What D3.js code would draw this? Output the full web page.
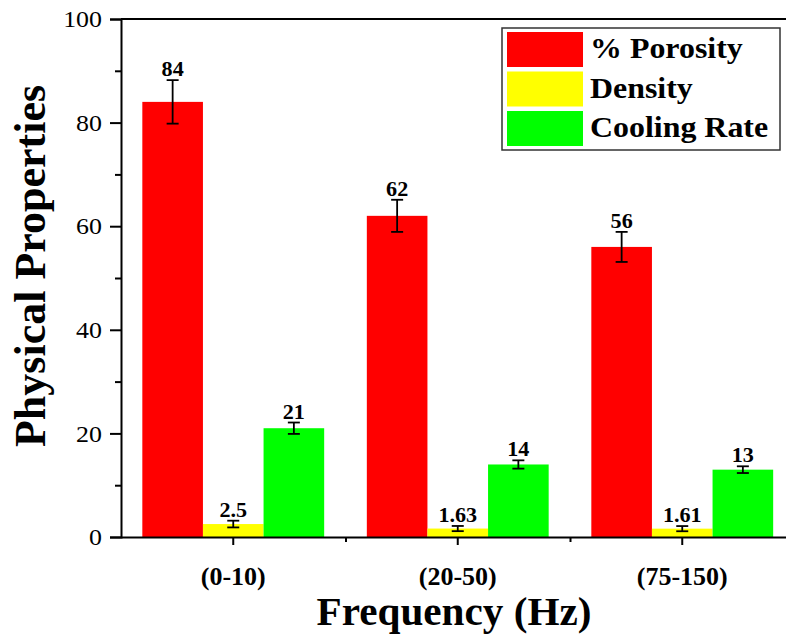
<!DOCTYPE html>
<html>
<head>
<meta charset="utf-8">
<script src="https://cdn.jsdelivr.net/npm/d3@7"></script>
<style>
  html, body { margin: 0; padding: 0; background: #fff; }
  svg { display: block; }
</style>
</head>
<body>
<svg id="chart" width="786" height="640"></svg>
<script>
// ---- data ----
const categories = ["(0-10)", "(20-50)", "(75-150)"];
const seriesNames = ["% Porosity", "Density", "Cooling Rate"];
const porosity = [84, 62, 56];
const porosityErr = [4.2, 3.1, 2.9];
const density = [2.5, 1.63, 1.61];
const densityErr = [0.65, 0.5, 0.5];
const coolingRate = [21, 14, 13];
const coolingRateErr = [1.1, 0.8, 0.65];
const yTicks = [0, 20, 40, 60, 80, 100];
const yMinorTicks = [10, 30, 50, 70, 90];
const xTitle = "Frequency (Hz)";
const yTitle = "Physical Properties";

const seriesValues = [porosity, density, coolingRate];
const seriesErrors = [porosityErr, densityErr, coolingRateErr];
const colors = ["#ff0000", "#ffff00", "#00ff00"];
const FONT = "'Liberation Serif', 'Times New Roman', serif";

// ---- layout ----
const svg = d3.select("#chart");
const plotL = 121, plotR = 794.5, plotT = 19, plotB = 537;

const x = d3.scaleBand().domain(categories).range([plotL, plotR]).padding(0);
const groupW = x.bandwidth() * 0.81;
const x1 = d3.scaleBand().domain(seriesNames).range([-groupW / 2, groupW / 2]).padding(0);
const y = d3.scaleLinear().domain([0, 100]).range([plotB, plotT]);

// Frame top / right lines (right side falls outside the view)
svg.append("line")
  .attr("x1", plotL).attr("x2", plotR).attr("y1", plotT).attr("y2", plotT)
  .attr("stroke", "#000").attr("stroke-width", 2);
svg.append("line")
  .attr("x1", plotR).attr("x2", plotR).attr("y1", plotT).attr("y2", plotB)
  .attr("stroke", "#000").attr("stroke-width", 2);

// Bars
const rows = [];
seriesNames.forEach((s, si) => {
  categories.forEach((c, ci) => {
    rows.push({ s, si, c, v: seriesValues[si][ci], e: seriesErrors[si][ci] });
  });
});

const cx = d => x(d.c) + x.bandwidth() / 2 + x1(d.s);
svg.append("g").selectAll("rect").data(rows).join("rect")
  .attr("x", d => cx(d))
  .attr("width", x1.bandwidth())
  .attr("y", d => y(d.v))
  .attr("height", d => y(0) - y(d.v))
  .attr("fill", d => colors[d.si]);

// Error bars
const eb = svg.append("g").attr("stroke", "#000").attr("stroke-width", 1.8);
const mid = d => cx(d) + x1.bandwidth() / 2;
const capW = 6;
rows.forEach(d => {
  const m = mid(d);
  eb.append("line").attr("x1", m).attr("x2", m).attr("y1", y(d.v + d.e)).attr("y2", y(d.v - d.e));
  eb.append("line").attr("x1", m - capW).attr("x2", m + capW).attr("y1", y(d.v + d.e)).attr("y2", y(d.v + d.e));
  eb.append("line").attr("x1", m - capW).attr("x2", m + capW).attr("y1", y(d.v - d.e)).attr("y2", y(d.v - d.e));
});

// Value labels
svg.append("g").selectAll("text").data(rows).join("text")
  .attr("transform", d => `translate(${mid(d)},${y(d.v + d.e) - 4}) scale(1.08,1)`)
  .attr("text-anchor", "middle")
  .attr("font-family", FONT)
  .attr("font-weight", "bold")
  .attr("font-size", 20.5)
  .text(d => String(d.v));

// Y axis
const yAxisG = svg.append("g").attr("transform", `translate(${plotL},0)`)
  .call(d3.axisLeft(y).tickValues(yTicks).tickSize(11).tickPadding(8).tickFormat(d3.format("d")));
yAxisG.select(".domain").attr("stroke-width", 2);
yAxisG.selectAll(".tick line").attr("stroke-width", 2);
yAxisG.selectAll(".tick text")
  .attr("font-size", 24)
  .attr("font-family", FONT)
  .attr("x", -19 / 1.08)
  .attr("transform", "scale(1.08,1)");
const yMinorG = svg.append("g").attr("transform", `translate(${plotL},0)`)
  .call(d3.axisLeft(y).tickValues(yMinorTicks).tickSize(6).tickFormat(""));
yMinorG.select(".domain").remove();
yMinorG.selectAll(".tick line").attr("stroke-width", 2);

// X axis
const xAxisG = svg.append("g").attr("transform", `translate(0,${plotB})`)
  .call(d3.axisBottom(x).tickSize(8).tickPadding(40));
xAxisG.select(".domain").attr("stroke-width", 2).attr("d", `M${plotL},0.5H${plotR}`);
xAxisG.selectAll(".tick line").attr("stroke-width", 2);
xAxisG.selectAll(".tick text")
  .attr("font-size", 26)
  .attr("font-weight", "bold")
  .attr("font-family", FONT)
  .attr("y", 48).attr("dy", 0);
// minor ticks at band boundaries
const bounds = categories.slice(1).map(c => x(c));
const xMinor = d3.scaleLinear().domain([plotL, plotR]).range([plotL, plotR]);
const xMinorG = svg.append("g").attr("transform", `translate(0,${plotB})`)
  .call(d3.axisBottom(xMinor).tickValues(bounds).tickSize(5).tickFormat(""));
xMinorG.select(".domain").remove();
xMinorG.selectAll(".tick line").attr("stroke-width", 2);

// Axis titles
svg.append("text")
  .attr("transform", `translate(454,625) scale(1.03,1)`)
  .attr("text-anchor", "middle")
  .attr("font-family", FONT)
  .attr("font-weight", "bold")
  .attr("font-size", 40)
  .text(xTitle);
svg.append("text")
  .attr("transform", `translate(45,266) rotate(-90)`)
  .attr("text-anchor", "middle")
  .attr("font-family", FONT)
  .attr("font-weight", "bold")
  .attr("font-size", 44)
  .text(yTitle);

// Legend
const lg = svg.append("g");
lg.append("rect")
  .attr("x", 502).attr("y", 28).attr("width", 278).attr("height", 122)
  .attr("fill", "#fff").attr("stroke", "#333").attr("stroke-width", 1.5);
seriesNames.forEach((s, i) => {
  const yy = 32 + i * 39.5;
  lg.append("rect").attr("x", 507).attr("y", yy).attr("width", 76).attr("height", 35).attr("fill", colors[i]);
  lg.append("text")
    .attr("transform", `translate(590,${yy + 26}) scale(1.12,1)`)
    .attr("font-family", FONT)
    .attr("font-weight", "bold")
    .attr("font-size", 28.5)
    .text(s);
});
</script>
</body>
</html>
